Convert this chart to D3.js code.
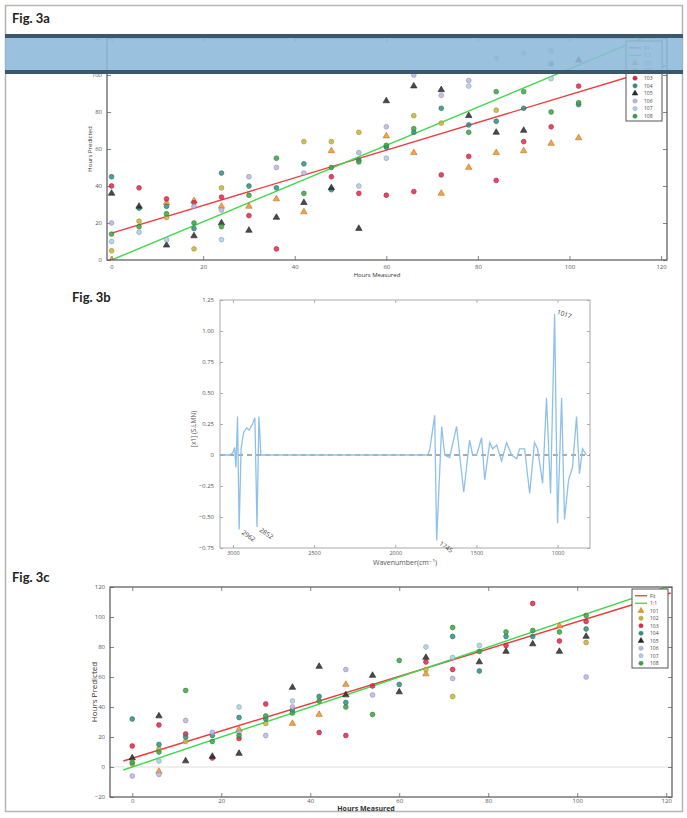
<!DOCTYPE html>
<html>
<head>
<meta charset="utf-8">
<script src="https://cdn.jsdelivr.net/npm/d3@7"></script>
<style>
  html, body { margin: 0; padding: 0; background: #fff; }
  svg { display: block; font-family: "Open Sans", "DejaVu Sans", sans-serif; }
</style>
</head>
<body>
<svg id="fig" width="687" height="818"></svg>
<script>
// ---- shared categories ----
const hours = [0, 6, 12, 18, 24, 30, 36, 42, 48, 54, 60, 66, 72, 78, 84, 90, 96, 102];
const sampleNames = ["101", "102", "103", "104", "105", "106", "107", "108"];
const sampleColors = ["#f0932b", "#c8b43a", "#e0284a", "#2f8f80", "#2a2a2a", "#b9b6e6", "#a9cfe6", "#3aa444"];
const sampleShapes = ["triangle", "circle", "circle", "circle", "triangle", "circle", "circle", "circle"];

// ---- Fig 3a: predicted hours per sample (aligned with hours) ----
const a101 = [0, null, 31, 32, 29, 29, 33, 26, 59, null, 67, 58, 36, 50, 58, 59, 63, 66];
const a102 = [5, 21, 23, 6, 39, null, null, 64, 64, 69, null, 78, 74, null, 81, null, null, null];
const a103 = [40, 39, 33, 31, 34, 24, 6, null, 45, 36, 35, 37, 46, 56, 43, 64, 72, 94];
const a104 = [45, 28, 29, 17, 47, 40, 39, 52, 38, 54, 61, 69, 82, 73, 75, 82, 106, 84];
const a105 = [36, 29, 8, 13, 20, 16, 23, 31, 39, 17, 86, 94, 92, 78, 69, 70, null, 108];
const a106 = [20, null, null, 29, 27, 45, 50, 47, null, 58, 72, 100, 89, 97, null, 112, 113, null];
const a107 = [10, 15, 11, null, 11, null, null, null, null, 40, 55, null, null, 94, 109, null, 98, null];
const a108 = [14, 18, 25, 20, 18, 35, 55, 36, 50, 53, 62, 71, null, 69, 91, 91, 80, 85];
const fitA = [[0, 14.5], [121, 105]];
const unityA = [[0, 0], [121, 125]];

// ---- Fig 3b: difference spectrum ----
const wn3b = [3080, 3020, 3000, 2990, 2982, 2972, 2962, 2950, 2935, 2915, 2900, 2880, 2865, 2852, 2840, 2828, 2800,
  1800, 1788, 1757, 1745, 1714, 1695, 1665, 1622, 1578, 1542, 1523, 1498, 1468, 1449, 1418, 1400, 1375, 1345,
  1314, 1283, 1252, 1234, 1203, 1172, 1142, 1123, 1092, 1068, 1043, 1018, 1000, 975, 957, 932, 908, 883, 865, 846, 822];
const val3b = [0, 0, 0.02, 0.06, -0.10, 0.31, -0.60, 0.05, 0.18, 0.22, 0.20, 0.25, 0.30, -0.58, 0.31, 0, 0,
  0, 0.04, 0.32, -0.69, 0.23, 0.0, -0.02, 0.23, -0.30, 0.12, 0.0, 0.0, 0.14, -0.20, 0.10, 0.05, 0.08, -0.05,
  0.10, 0.0, -0.03, 0.05, 0.05, -0.31, 0.10, 0.05, -0.23, 0.46, -0.31, 1.14, -0.55, 0.46, -0.52, -0.20, -0.10, 0.31, -0.15, 0.05, 0.0];
const peaks3b = [
  { wn: 2962, v: -0.60, label: "2962", rot: 35 },
  { wn: 2852, v: -0.58, label: "2852", rot: 35 },
  { wn: 1745, v: -0.69, label: "1745", rot: 35 },
  { wn: 1018, v: 1.14, label: "1017", rot: 20 }
];
const yTicks3b = [1.25, 1.0, 0.75, 0.5, 0.25, 0, -0.25, -0.5, -0.75];
const xTicks3b = [3000, 2500, 2000, 1500, 1000];

// ---- Fig 3c ----
const c101 = [null, -3, null, null, 25, null, 29, 35, 55, null, null, 62, null, null, null, null, 94, null];
const c102 = [2, 12, 17, null, null, 29, null, null, null, null, null, 65, 47, null, null, null, null, 83];
const c103 = [14, 28, 22, 6, 19, 42, null, 23, 21, 54, null, 70, 65, null, 81, 109, 84, 97];
const c104 = [32, 15, 20, 21, 33, 32, 38, 47, 43, null, 55, null, 87, 64, 87, 87, null, 92];
const c105 = [6, 34, 4, 7, 9, null, 53, 67, 48, 61, 50, 73, null, 70, 77, 82, 77, 87];
const c106 = [-6, -5, 31, 23, 23, 21, 40, null, 65, 48, null, null, 59, null, null, null, null, 60];
const c107 = [null, 4, null, null, 40, null, 44, null, null, null, null, 80, 73, 81, null, null, null, null];
const c108 = [3, 10, 51, 17, 21, 34, 36, 44, 40, 35, 71, null, 93, 77, 90, 91, 90, 101];
const fitC = [[-2, 4], [121, 116]];
const unityC = [[-2, -2], [121, 121]];

const svg = d3.select("#fig");

// outer frame
svg.append("rect")
  .attr("x", 5.5).attr("y", 5.5).attr("width", 677).attr("height", 806)
  .attr("fill", "none").attr("stroke", "#b5b5b5").attr("stroke-width", 1.5);

function figLabel(x, y, t) {
  svg.append("text").attr("x", x).attr("y", y)
    .style("font-family", "Lato, 'Open Sans', sans-serif")
    .style("font-weight", 700).style("font-size", "13px").attr("fill", "#222").text(t);
}
figLabel(12, 23, "Fig. 3a");
figLabel(72, 302, "Fig. 3b");
figLabel(12, 582, "Fig. 3c");

function styleAxis(g, fs) {
  g.select(".domain").remove();
  g.selectAll("line").attr("stroke", "#666").attr("stroke-width", 0.8);
  g.selectAll("text").attr("fill", "#555").style("font-size", fs + "px").style("font-family", "'Open Sans', sans-serif");
}

function drawScatter(o) {
  const g = svg.append("g");
  const x = d3.scaleLinear().domain(o.xDomain).range([o.left, o.right]);
  const y = d3.scaleLinear().domain(o.yDomain).range([o.bottom, o.top]);
  const clipId = "clip-" + o.id;
  svg.append("defs").append("clipPath").attr("id", clipId)
    .append("rect").attr("x", o.left).attr("y", o.top)
    .attr("width", o.right - o.left).attr("height", o.bottom - o.top);

  if (o.zeroLine) {
    g.append("line").attr("x1", o.left).attr("x2", o.right)
      .attr("y1", y(0)).attr("y2", y(0)).attr("stroke", "#ddd").attr("stroke-width", 1);
  }

  const xt = [0, 20, 40, 60, 80, 100, 120];
  g.append("g").attr("transform", `translate(0,${o.bottom})`)
    .call(d3.axisBottom(x).tickValues(xt).tickSize(-4).tickPadding(o.xPad)).call(styleAxis, o.fs);
  g.append("g").attr("transform", `translate(0,${o.top})`)
    .call(d3.axisTop(x).tickValues(xt).tickSize(-4).tickFormat("")).call(styleAxis, o.fs);
  g.append("g").attr("transform", `translate(${o.left},0)`)
    .call(d3.axisLeft(y).tickValues(o.yTicks).tickSize(-4).tickPadding(5)).call(styleAxis, o.fs);
  g.append("g").attr("transform", `translate(${o.right},0)`)
    .call(d3.axisRight(y).tickValues(o.yTicks).tickSize(-4).tickFormat("")).call(styleAxis, o.fs);

  const line = d3.line().x(d => x(d[0])).y(d => y(d[1]));
  const lines = g.append("g").attr("clip-path", `url(#${clipId})`);
  lines.append("path").datum(o.fit).attr("d", line)
    .attr("fill", "none").attr("stroke", "#f0393c").attr("stroke-width", 1.4);
  lines.append("path").datum(o.unity).attr("d", line)
    .attr("fill", "none").attr("stroke", "#3fd84a").attr("stroke-width", 1.4);

  const pts = g.append("g").attr("clip-path", `url(#${clipId})`);
  o.series.forEach((vals, si) => {
    const col = sampleColors[si];
    const sym = d3.symbol().type(sampleShapes[si] === "triangle" ? d3.symbolTriangle : d3.symbolCircle).size(o.msize);
    hours.forEach((h, i) => {
      const v = vals[i];
      if (v == null) return;
      pts.append("path").attr("d", sym)
        .attr("transform", `translate(${x(h)},${y(v)})`)
        .attr("fill", col).attr("fill-opacity", 0.85)
        .attr("stroke", d3.color(col).darker(0.7)).attr("stroke-width", 0.6);
    });
  });

  g.append("rect").attr("x", o.left).attr("y", o.top)
    .attr("width", o.right - o.left).attr("height", o.bottom - o.top)
    .attr("fill", "none").attr("stroke", "#555").attr("stroke-width", 1.2);

  // legend
  const lg = g.append("g").attr("transform", `translate(${o.legend[0]},${o.legend[1]})`);
  const rowH = o.legendRow;
  lg.append("rect").attr("x", 0).attr("y", 0).attr("width", 36).attr("height", rowH * 10 + 4)
    .attr("fill", "#fff").attr("stroke", "#555").attr("stroke-width", 1);
  [["#f0393c", "Fit"], ["#3fd84a", "1:1"]].forEach((d, i) => {
    const yy = 4 + rowH * i + rowH / 2 - 1;
    lg.append("line").attr("x1", 3).attr("x2", 15).attr("y1", yy).attr("y2", yy)
      .attr("stroke", d[0]).attr("stroke-width", 1.3);
    lg.append("text").attr("x", 18).attr("y", yy + 1.8).style("font-size", "5px").attr("fill", "#444").text(d[1]);
  });
  sampleNames.forEach((n, si) => {
    const yy = 4 + rowH * (si + 2) + rowH / 2 - 1;
    const sym = d3.symbol().type(sampleShapes[si] === "triangle" ? d3.symbolTriangle : d3.symbolCircle).size(14);
    lg.append("path").attr("d", sym).attr("transform", `translate(9,${yy})`)
      .attr("fill", sampleColors[si]).attr("stroke", d3.color(sampleColors[si]).darker(0.7)).attr("stroke-width", 0.5);
    lg.append("text").attr("x", 18).attr("y", yy + 1.8).style("font-size", "5px").attr("fill", "#444").text(n);
  });

  // axis titles
  svg.append("text")
    .attr("transform", `translate(${o.yLabelX},${(o.top + o.bottom) / 2}) rotate(-90)`)
    .attr("text-anchor", "middle").style("font-size", o.labelFs + "px").attr("fill", "#333")
    .text("Hours Predicted");
  svg.append("text")
    .attr("x", o.xLabelX).attr("y", o.xLabelY)
    .attr("text-anchor", "middle").style("font-size", o.xLabelFs + "px")
    .style("font-weight", o.xLabelBold ? 700 : 400).attr("fill", "#333")
    .text("Hours Measured");
}

// ---- Fig 3a ----
drawScatter({
  id: "a", left: 107, right: 667, top: 38, bottom: 260,
  xDomain: [-1, 121.3], yDomain: [0, 120], yTicks: [0, 20, 40, 60, 80, 100, 120],
  series: [a101, a102, a103, a104, a105, a106, a107, a108],
  fit: fitA, unity: unityA, fs: 6, msize: 18, xPad: 5,
  legend: [626, 41], legendRow: 7.6,
  yLabelX: 92, xLabelX: 377, xLabelY: 277, labelFs: 6, xLabelFs: 6, xLabelBold: false
});

// band overlay across fig 3a
svg.append("rect").attr("x", 5).attr("y", 37).attr("width", 678).attr("height", 35)
  .attr("fill", "#8cb8d8").attr("fill-opacity", 0.88);
svg.append("rect").attr("x", 5).attr("y", 34).attr("width", 678).attr("height", 4).attr("fill", "#3c566b");
svg.append("rect").attr("x", 5).attr("y", 70).attr("width", 678).attr("height", 4).attr("fill", "#3c566b");

// ---- Fig 3b ----
(function () {
  const L = 220, R = 590, T = 300, B = 548;
  const x = d3.scaleLinear().domain([3080, 800]).range([L, R]);
  const y = d3.scaleLinear().domain([-0.75, 1.25]).range([B, T]);
  const g = svg.append("g");
  const fmt = d => (d === 0 ? "0" : d3.format(".2f")(d));

  g.append("g").attr("transform", `translate(0,${B})`)
    .call(d3.axisBottom(x).tickValues(xTicks3b).tickSize(-3).tickPadding(3).tickFormat(d3.format("d"))).call(styleAxis, 5.5);
  g.append("g").attr("transform", `translate(0,${T})`)
    .call(d3.axisTop(x).tickValues(xTicks3b).tickSize(-3).tickFormat("")).call(styleAxis, 6);
  g.append("g").attr("transform", `translate(${L},0)`)
    .call(d3.axisLeft(y).tickValues(yTicks3b).tickSize(-3).tickPadding(6).tickFormat(fmt)).call(styleAxis, 6);
  g.append("g").attr("transform", `translate(${R},0)`)
    .call(d3.axisRight(y).tickValues(yTicks3b).tickSize(-3).tickFormat("")).call(styleAxis, 6);
  g.selectAll("line").attr("stroke", "#999");

  g.append("line").attr("x1", L).attr("x2", R).attr("y1", y(0)).attr("y2", y(0))
    .attr("stroke", "#555").attr("stroke-width", 1).attr("stroke-dasharray", "5,4");

  const line = d3.line().x((d, i) => x(wn3b[i])).y((d, i) => y(val3b[i]));
  g.append("path").datum(val3b).attr("d", line)
    .attr("fill", "none").attr("stroke", "#8ec0ea").attr("stroke-width", 1.3);

  g.append("rect").attr("x", L).attr("y", T).attr("width", R - L).attr("height", B - T)
    .attr("fill", "none").attr("stroke", "#aaa").attr("stroke-width", 1);

  peaks3b.forEach(p => {
    const px = x(p.wn) + 2, py = y(p.v) + (p.v < 0 ? 4 : 0);
    g.append("text").attr("transform", `translate(${px},${py}) rotate(${p.rot})`)
      .style("font-size", "6.5px").attr("fill", "#444").text(p.label);
  });

  svg.append("text").attr("transform", `translate(196,${(T + B) / 2 + 5}) rotate(-90)`)
    .attr("text-anchor", "middle").style("font-size", "6.5px").attr("fill", "#555").text("[x1] (S.LMN)");
  svg.append("text").attr("x", (L + R) / 2).attr("y", 565).attr("text-anchor", "middle")
    .style("font-size", "7px").attr("fill", "#555").text("Wavenumber(cm\u207B\u00B9)");
})();

// ---- Fig 3c ----
drawScatter({
  id: "c", left: 110, right: 672, top: 587, bottom: 797,
  xDomain: [-5, 121.3], yDomain: [-20, 120], yTicks: [-20, 0, 20, 40, 60, 80, 100, 120],
  series: [c101, c102, c103, c104, c105, c106, c107, c108],
  fit: fitC, unity: unityC, fs: 6, msize: 18, zeroLine: true, xPad: 2,
  legend: [632, 589], legendRow: 7.5,
  yLabelX: 97, xLabelX: 366, xLabelY: 811, labelFs: 8, xLabelFs: 7, xLabelBold: true
});
</script>
</body>
</html>
